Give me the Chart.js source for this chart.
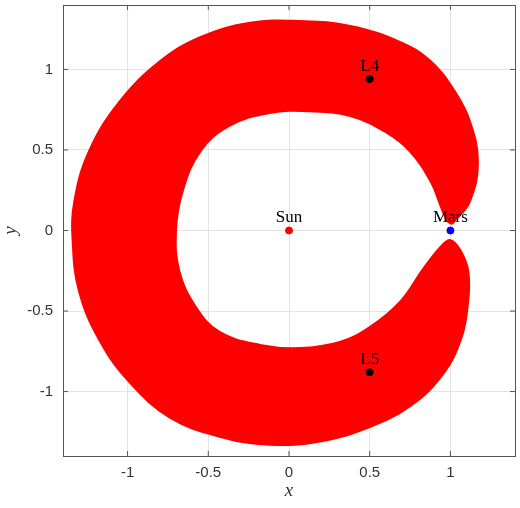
<!DOCTYPE html>
<html>
<head>
<meta charset="utf-8">
<script src="https://cdn.jsdelivr.net/npm/chart.js@4"></script>
<style>body{margin:0;background:#fff}#wrap{width:520px;height:508px}</style>
</head>
<body>
<div id="wrap"><canvas id="c"></canvas></div>
<script>
// horseshoe cloud boundary (outer edge then inner edge)
const regionX = [1.01,1.12,1.17,1.12,1.03,0.88,0.69,0.38,0.07,-0.24,-0.55,-0.8,-1.05,-1.24,-1.33,-1.34,-1.30,-1.17,-0.99,-0.74,-0.43,-0.12,0.19,0.5,0.75,0.94,1.06,1.11,1.11,1.06,1.0,
  0.94,0.83,0.69,0.5,0.32,0.07,-0.18,-0.43,-0.58,-0.68,-0.7,-0.66,-0.55,-0.37,-0.12,0.13,0.38,0.6,0.75,0.88,0.94,0.98,1.01];
const regionY = [0.04,0.18,0.43,0.68,0.86,1.05,1.17,1.27,1.30,1.29,1.2,1.05,0.80,0.49,0.18,-0.07,-0.38,-0.69,-0.94,-1.16,-1.28,-1.33,-1.31,-1.22,-1.09,-0.91,-0.69,-0.44,-0.25,-0.12,-0.06,
  -0.10,-0.24,-0.44,-0.6,-0.69,-0.73,-0.71,-0.63,-0.47,-0.25,0,0.24,0.49,0.65,0.73,0.74,0.71,0.61,0.49,0.3,0.15,0.06,0.04];
const bodyNames = ['Sun','L4','L5','Mars'];
const bodyX = [0, 0.5, 0.5, 1];
const bodyY = [0, 0.94, -0.88, 0];
const bodyColors = ['#ff0000','#000000','#000000','#0000ff'];
const tickValues = [-1,-0.5,0,0.5,1];

const frame = {
  id:'frame',
  afterDraw(chart){
    const {ctx, chartArea:a, scales} = chart;
    ctx.save();
    ctx.strokeStyle='#555'; ctx.lineWidth=1;
    ctx.strokeRect(a.left+0.5,a.top+0.5,a.right-a.left,a.bottom-a.top);
    ctx.beginPath();
    tickValues.forEach(v=>{
      const px=scales.x.getPixelForValue(v), py=scales.y.getPixelForValue(v);
      ctx.moveTo(px,a.bottom); ctx.lineTo(px,a.bottom-5);
      ctx.moveTo(px,a.top); ctx.lineTo(px,a.top+5);
      ctx.moveTo(a.left,py); ctx.lineTo(a.left+5,py);
      ctx.moveTo(a.right,py); ctx.lineTo(a.right-5,py);
    });
    ctx.stroke();
    ctx.fillStyle='#000'; ctx.font='17px "Liberation Serif"';
    ctx.textAlign='center'; ctx.textBaseline='bottom';
    bodyNames.forEach((n,i)=>{
      ctx.fillText(n, scales.x.getPixelForValue(bodyX[i]), scales.y.getPixelForValue(bodyY[i])-4);
    });
    ctx.restore();
  }
};

const tickFmt = v => String(v);

new Chart(document.getElementById('c'), {
  type:'scatter',
  data:{datasets:[
    {data:regionX.map((x,i)=>({x,y:regionY[i]})), showLine:true, fill:'shape', tension:0.4,
     backgroundColor:'#ff0000', borderColor:'#ff0000', borderWidth:2, pointRadius:0, order:2},
    {data:bodyX.map((x,i)=>({x,y:bodyY[i]})), pointRadius:3.5, pointBackgroundColor:bodyColors,
     pointBorderColor:bodyColors, order:1}
  ]},
  options:{
    animation:false, responsive:true, maintainAspectRatio:false,
    layout:{padding:{top:3,right:3,left:0,bottom:0}},
    plugins:{legend:{display:false},tooltip:{enabled:false}},
    scales:{
      x:{min:-1.4,max:1.4, afterBuildTicks:s=>{s.ticks=tickValues.map(v=>({value:v}))},
        grid:{color:'#e3e3e3',drawTicks:false}, border:{display:false},
        ticks:{color:'#333',padding:8,callback:tickFmt,font:{family:'Liberation Sans',size:15}},
        title:{display:true,text:'x',color:'#333',padding:{top:0,bottom:6},font:{family:'Liberation Serif',size:19,style:'italic'}},
        afterFit:s=>{s.height=52; s.paddingLeft=0; s.paddingRight=0}},
      y:{min:-1.4,max:1.4, afterBuildTicks:s=>{s.ticks=tickValues.map(v=>({value:v}))},
        grid:{color:'#e3e3e3',drawTicks:false}, border:{display:false},
        ticks:{color:'#333',padding:10,callback:tickFmt,font:{family:'Liberation Sans',size:15}},
        title:{display:true,text:'y',color:'#333',padding:{top:0,bottom:0},font:{family:'Liberation Serif',size:19,style:'italic'}},
        afterFit:s=>{s.width=63; s.paddingTop=0; s.paddingBottom=0}}
    }
  },
  plugins:[frame]
});
</script>
</body>
</html>
